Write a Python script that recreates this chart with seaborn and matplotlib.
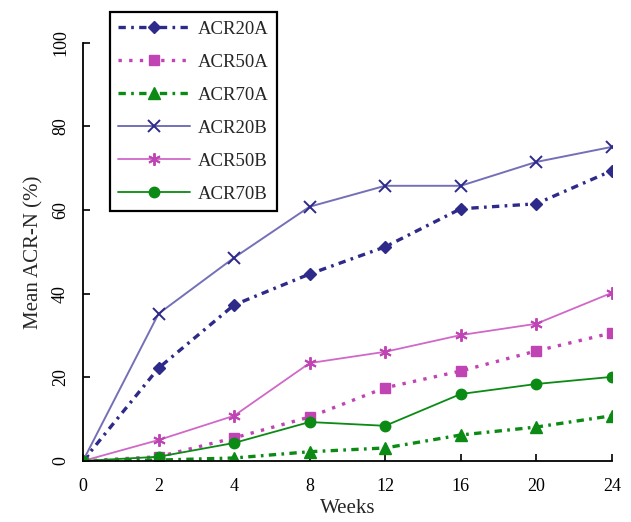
import matplotlib
matplotlib.use("Agg")
import matplotlib.pyplot as plt
import seaborn as sns
import pandas as pd

weeks = ["0", "2", "4", "8", "12", "16", "20", "24"]

acr20a = [0, 22.2, 37.3, 44.7, 51.2, 60.3, 61.5, 69.4]
acr50a = [0, 1.0, 5.5, 10.5, 17.5, 21.5, 26.3, 30.6]
acr70a = [0, 0.2, 0.7, 2.2, 3.1, 6.2, 8.1, 10.8]
acr20b = [0, 35.2, 48.6, 60.8, 65.8, 65.8, 71.5, 75.1]
acr50b = [0, 5.0, 10.8, 23.4, 26.1, 30.1, 32.8, 40.2]
acr70b = [0, 1.0, 4.3, 9.3, 8.4, 16.0, 18.4, 20.1]

series = {
    "ACR20A": acr20a,
    "ACR50A": acr50a,
    "ACR70A": acr70a,
    "ACR20B": acr20b,
    "ACR50B": acr50b,
    "ACR70B": acr70b,
}

dashdot = (0, (2.2, 1.6, 0.8, 1.6))
styles = {
    "ACR20A": dict(color="#2e2a8a", ls=dashdot, lw=2.4, marker="D", ms=6.5, mfc="#2e2a8a", mec="#2e2a8a"),
    "ACR50A": dict(color="#c044b4", ls=(0, (1, 2.2)), lw=2.4, marker="s", ms=7.5, mfc="#c044b4", mec="#c044b4"),
    "ACR70A": dict(color="#0b8a14", ls=dashdot, lw=2.4, marker="^", ms=8, mfc="#0b8a14", mec="#0b8a14"),
    "ACR20B": dict(color="#7470b8", ls="-", lw=1.4, marker="x", ms=8, mfc="#2e2a8a", mec="#2e2a8a", mew=1.4),
    "ACR50B": dict(color="#d068c8", ls="-", lw=1.3, marker=(6, 2, 0), ms=9, mfc="#c044b4", mec="#c044b4", mew=1.4),
    "ACR70B": dict(color="#0b8a14", ls="-", lw=1.3, marker="o", ms=7.5, mfc="#0b8a14", mec="#0b8a14"),
}

df = pd.DataFrame(series)
df["pos"] = range(len(weeks))

sns.set_theme(style="ticks")
plt.rcParams["font.family"] = ["Liberation Serif", "DejaVu Serif"]

fig = plt.figure(figsize=(6.31, 5.22), dpi=100)
ax = fig.add_axes([0.1315, 0.117, 0.838, 0.801])

for name in series:
    st = styles[name]
    sns.lineplot(data=df, x="pos", y=name, ax=ax, label=name,
                 color=st["color"], linestyle=st["ls"], linewidth=st["lw"],
                 marker=st["marker"], markersize=st["ms"],
                 markerfacecolor=st["mfc"], markeredgecolor=st["mec"],
                 markeredgewidth=st.get("mew", 1.0))

ax.set_xlim(0, len(weeks) - 1)
ax.set_ylim(0, 100)
ax.set_xticks(range(len(weeks)))
ax.set_xticklabels(weeks, fontsize=13)
ax.set_yticks(range(0, 101, 20))
ax.set_yticklabels([str(v) for v in range(0, 101, 20)], fontsize=13, rotation=90, va="center")
ax.tick_params(axis="x", direction="in", length=5, width=1.2, pad=12, colors="black")
ax.tick_params(axis="y", direction="in", length=5, width=1.2, pad=10, colors="black")
ax.set_xlabel("Weeks", fontsize=15, labelpad=3)
ax.set_ylabel("Mean ACR-N (%)", fontsize=15, labelpad=6)
for side in ["top", "right"]:
    ax.spines[side].set_visible(False)
for side in ["left", "bottom"]:
    ax.spines[side].set_linewidth(1.3)
    ax.spines[side].set_color("black")

leg = ax.legend(loc="upper left", bbox_to_anchor=(110 / 631, 1 - 12 / 522),
                bbox_transform=fig.transFigure, fontsize=13.5, handlelength=3.8,
                labelspacing=0.85, borderpad=0.45, handletextpad=0.45,
                frameon=True, fancybox=False, framealpha=1, borderaxespad=0)
leg.get_frame().set_edgecolor("black")
leg.get_frame().set_linewidth(1.6)

fig.savefig("out.png", dpi=100)
